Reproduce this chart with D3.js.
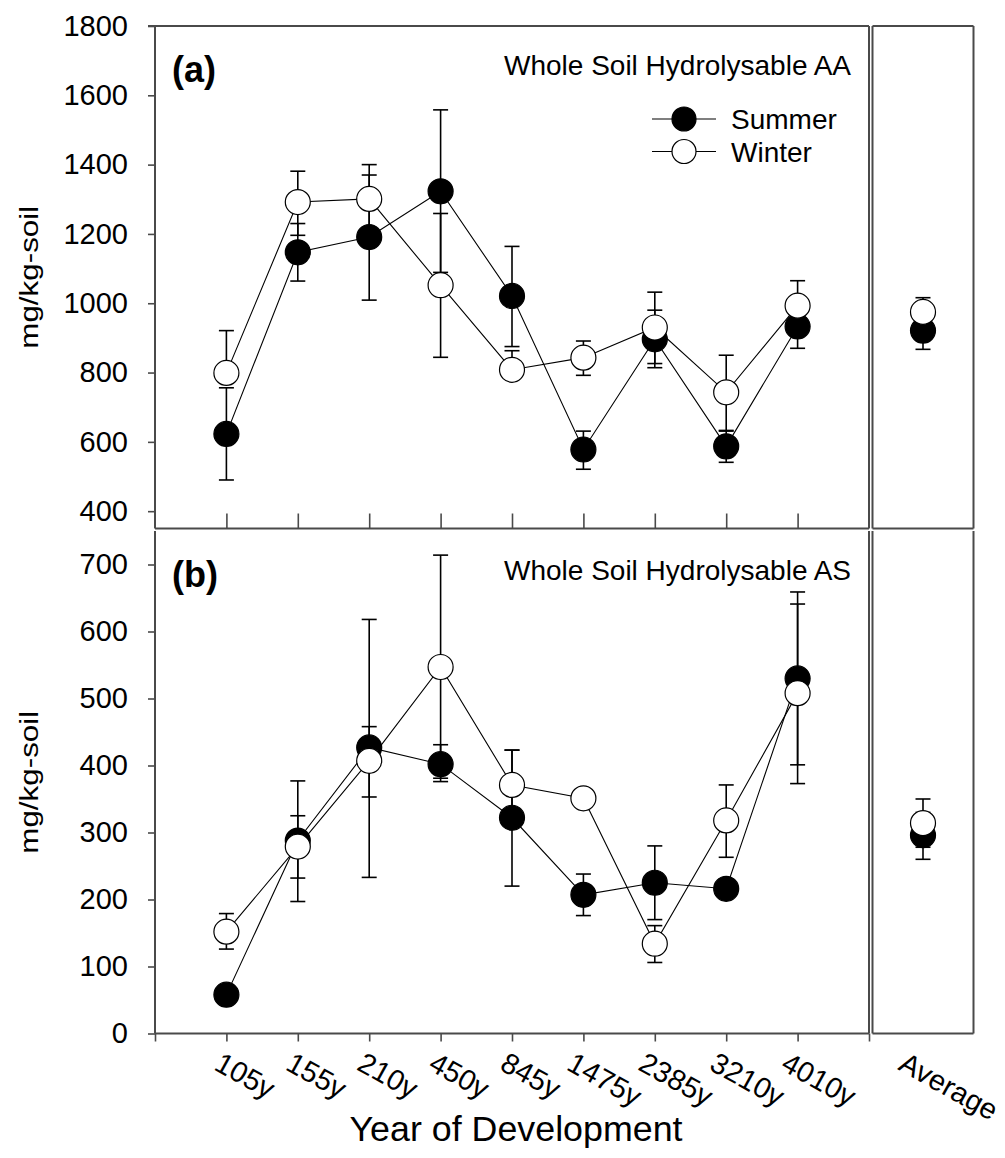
<!DOCTYPE html>
<html>
<head>
<meta charset="utf-8">
<script src="https://cdn.jsdelivr.net/npm/d3@7"></script>
<style>
  html, body { margin: 0; padding: 0; background: #fff; }
  svg { display: block; font-family: "Liberation Sans", Arial, sans-serif; }
</style>
</head>
<body>
<svg id="chart" width="1005" height="1158"></svg>
<script>
// Development stages along the chronosequence
const categories = ["105y", "155y", "210y", "450y", "845y", "1475y", "2385y", "3210y", "4010y"];
const averageLabel = "Average";
const seriesNames = ["Summer", "Winter"];

// (a) Whole soil hydrolysable amino acids, mg/kg-soil
const aaSummer     = [623, 1147, 1191, 1323, 1021, 578, 896, 587, 933];
const aaSummerLow  = [490, 1064, 1009, 1089, 875, 521, 814, 541, 870];
const aaSummerHigh = [756, 1230, 1370, 1558, 1164, 631, 980, 633, 996];
const aaWinter     = [799, 1292, 1301, 1052, 808, 843, 930, 743, 993];
const aaWinterLow  = [782, 1196, 1202, 844, 782, 792, 826, 631, 922];
const aaWinterHigh = [921, 1381, 1400, 1259, 863, 891, 1032, 850, 1065];
const aaAverage     = [921, 975];   // summer, winter
const aaAverageLow  = [867, 934];
const aaAverageHigh = [975, 1016];
const aaTicks = [400, 600, 800, 1000, 1200, 1400, 1600, 1800];

// (b) Whole soil hydrolysable amino sugars, mg/kg-soil
const asSummer     = [58, 288, 427, 402, 322, 207, 225, 216, 530];
const asSummerLow  = [58, 197, 233, 376, 220, 176, 170, 216, 401];
const asSummerHigh = [58, 377, 618, 431, 423, 238, 280, 216, 659];
const asWinter     = [152, 279, 407, 547, 371, 351, 134, 318, 508];
const asWinterLow  = [126, 232, 353, 381, 318, 351, 106, 263, 373];
const asWinterHigh = [179, 325, 458, 714, 423, 351, 161, 371, 641];
const asAverage     = [296, 314];
const asAverageLow  = [260, 278];
const asAverageHigh = [330, 350];
const asTicks = [0, 100, 200, 300, 400, 500, 600, 700];

const svg = d3.select("#chart");
const frameColor = "#4a4a4a";

const left = 155, right = 869;
const avgLeft = 872.5, avgRight = 973.5;
const x = d3.scaleLinear().domain([0, categories.length + 1]).range([left, right]);
const xAvg = (avgLeft + avgRight) / 2;

const panels = [
  { id: "a", tag: "(a)", title: "Whole Soil Hydrolysable AA",
    top: 26, bottom: 528.5, domain: [350, 1800], ticks: aaTicks,
    summer: [aaSummer, aaSummerLow, aaSummerHigh],
    winter: [aaWinter, aaWinterLow, aaWinterHigh],
    avg: [aaAverage, aaAverageLow, aaAverageHigh], legend: true, frameTop: true },
  { id: "b", tag: "(b)", title: "Whole Soil Hydrolysable AS",
    top: 531, bottom: 1033.5, domain: [0, 750], ticks: asTicks,
    summer: [asSummer, asSummerLow, asSummerHigh],
    winter: [asWinter, asWinterLow, asWinterHigh],
    avg: [asAverage, asAverageLow, asAverageHigh], legend: false, frameTop: false }
];

const R = 12.5, capHalf = 7.5;

panels.forEach(p => {
  const y = d3.scaleLinear().domain(p.domain).range([p.bottom, p.top]);
  const g = svg.append("g").attr("class", "panel-" + p.id);

  // y axis
  const yAxis = d3.axisLeft(y).tickValues(p.ticks).tickSize(7).tickPadding(20).tickFormat(d3.format("d"));
  const ya = g.append("g").attr("transform", `translate(${left},0)`).call(yAxis);
  ya.select(".domain").remove();
  ya.selectAll(".tick line").attr("stroke", frameColor).attr("stroke-width", 1.6);
  ya.selectAll(".tick text").attr("font-size", 29).attr("fill", "#000")
    .attr("font-family", "Liberation Sans, Arial, sans-serif");

  // frames
  const fr = g.append("g").attr("stroke", frameColor).attr("stroke-width", 2).attr("fill", "none");
  fr.append("line").attr("x1", left).attr("x2", left).attr("y1", p.top).attr("y2", p.bottom);
  fr.append("line").attr("x1", right).attr("x2", right).attr("y1", p.top).attr("y2", p.bottom);
  fr.append("line").attr("x1", left).attr("x2", right).attr("y1", p.bottom).attr("y2", p.bottom);
  fr.append("line").attr("x1", avgLeft).attr("x2", avgLeft).attr("y1", p.top).attr("y2", p.bottom);
  fr.append("line").attr("x1", avgRight).attr("x2", avgRight).attr("y1", p.top).attr("y2", p.bottom);
  fr.append("line").attr("x1", avgLeft).attr("x2", avgRight).attr("y1", p.bottom).attr("y2", p.bottom);
  if (p.frameTop) {
    fr.append("line").attr("x1", left - 7).attr("x2", right).attr("y1", p.top).attr("y2", p.top);
    fr.append("line").attr("x1", avgLeft).attr("x2", avgRight).attr("y1", p.top).attr("y2", p.top);
  }

  // x ticks: inward on the upper panel, outward on the lower one
  const idx = d3.range(1, categories.length + 1);
  if (p.id === "a") {
    const xa = g.append("g").attr("transform", `translate(0,${p.bottom})`)
      .call(d3.axisTop(x).tickValues(idx).tickSize(15).tickFormat(""));
    xa.select(".domain").remove();
    xa.selectAll(".tick line").attr("stroke", frameColor).attr("stroke-width", 1.6);
  } else {
    const xa = g.append("g").attr("transform", `translate(0,${p.bottom})`)
      .call(d3.axisBottom(x).tickValues(d3.range(0, categories.length + 2)).tickSize(8).tickFormat(""));
    xa.select(".domain").remove();
    xa.selectAll(".tick line").attr("stroke", frameColor).attr("stroke-width", 1.6);
  }

  // panel tag and title
  g.append("text").attr("x", 172).attr("y", p.top + 56).attr("font-size", 36)
    .attr("font-weight", "bold").text(p.tag);
  g.append("text").attr("x", 504).attr("y", p.top + 49).attr("font-size", 28).text(p.title);

  const series = [
    { name: "Summer", d: p.summer, fill: "#000", avgI: 0 },
    { name: "Winter", d: p.winter, fill: "#fff", avgI: 1 }
  ];

  const line = d3.line().x((d, i) => x(i + 1)).y(d => y(d));

  // connecting lines
  series.forEach(s => {
    g.append("path").datum(s.d[0]).attr("d", line)
      .attr("fill", "none").attr("stroke", "#000").attr("stroke-width", 1.1);
  });

  // error bars
  const eb = g.append("g").attr("stroke", "#000").attr("stroke-width", 1.6);
  function errBar(cx, lo, hi, v) {
    if (lo === hi) return;
    eb.append("line").attr("x1", cx).attr("x2", cx).attr("y1", y(lo)).attr("y2", y(hi));
    [lo, hi].forEach(e => {
      if (e === v) return;
      eb.append("line").attr("x1", cx - capHalf).attr("x2", cx + capHalf).attr("y1", y(e)).attr("y2", y(e));
    });
  }
  series.forEach(s => {
    s.d[0].forEach((v, i) => errBar(x(i + 1), s.d[1][i], s.d[2][i], v));
    errBar(xAvg, p.avg[1][s.avgI], p.avg[2][s.avgI], p.avg[0][s.avgI]);
  });

  // markers (winter drawn above summer)
  series.forEach(s => {
    const mg = g.append("g");
    mg.selectAll("circle").data(s.d[0]).join("circle")
      .attr("cx", (d, i) => x(i + 1)).attr("cy", d => y(d)).attr("r", R)
      .attr("fill", s.fill).attr("stroke", "#000").attr("stroke-width", 1.2);
    mg.append("circle").attr("cx", xAvg).attr("cy", y(p.avg[0][s.avgI])).attr("r", R)
      .attr("fill", s.fill).attr("stroke", "#000").attr("stroke-width", 1.2);
  });

  // y axis title
  const cy = (p.top + p.bottom) / 2;
  g.append("text").attr("transform", `translate(38,${cy}) rotate(-90)`)
    .attr("text-anchor", "middle").attr("font-size", 26)
    .attr("textLength", 143).attr("lengthAdjust", "spacingAndGlyphs")
    .text("mg/kg-soil");

  // legend
  if (p.legend) {
    const lg = g.append("g");
    series.forEach((s, k) => {
      const ly = 119 + k * 32.5;
      lg.append("line").attr("x1", 652).attr("x2", 716).attr("y1", ly).attr("y2", ly)
        .attr("stroke", "#000").attr("stroke-width", 1.1);
      lg.append("circle").attr("cx", 684).attr("cy", ly).attr("r", 12)
        .attr("fill", s.fill).attr("stroke", "#000").attr("stroke-width", 1.2);
      lg.append("text").attr("x", 731).attr("y", ly + 10).attr("font-size", 28).text(s.name);
    });
  }
});

// rotated category labels: longer labels start further to the left of their tick
const labelAngle = 29;
const labelG = svg.append("g");
categories.concat([averageLabel]).forEach((c, i) => {
  const cx = i < categories.length ? x(i + 1) : xAvg;
  const t = labelG.append("text").attr("font-size", 29).text(c);
  const len = t.node().getComputedTextLength();
  t.attr("transform", `translate(${cx + 4 - 0.28 * len},1069) rotate(${labelAngle})`);
});

// x axis title
svg.append("text").attr("x", 516).attr("y", 1141).attr("text-anchor", "middle")
  .attr("font-size", 35).attr("textLength", 333).attr("lengthAdjust", "spacingAndGlyphs")
  .text("Year of Development");
</script>
</body>
</html>
